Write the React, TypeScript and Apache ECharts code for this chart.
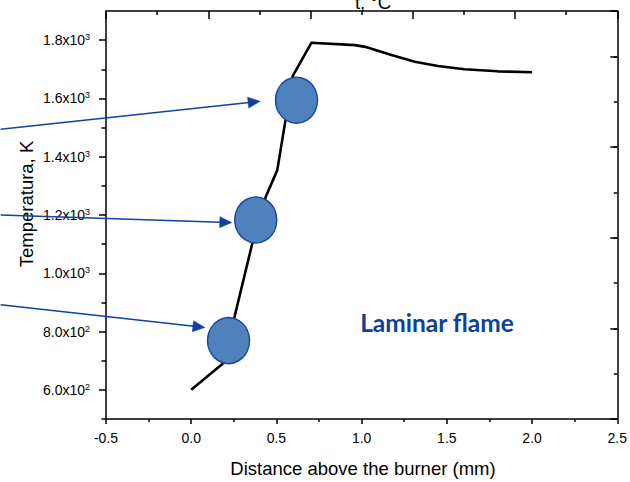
import React, { useEffect, useRef } from "react";
import * as echarts from "echarts";

// Temperature profile (distance above burner, mm -> temperature, K)
const distance = [0, 0.188, 0.359, 0.437, 0.505, 0.596, 0.705, 0.962, 1.02, 1.1, 1.175, 1.312, 1.448, 1.603, 1.798, 2.0];
const temperature = [600, 691, 1104, 1262, 1354, 1677, 1791, 1783, 1777, 1763, 1749, 1726, 1711, 1700, 1693, 1690];

// Highlighted points (blue ellipses)
const markerX = [0.618, 0.379, 0.219];
const markerY = [1594, 1183, 769];

// Arrows (from outside the plot towards the markers), in data units
const arrowFromX = [-1.118, -1.118, -1.118];
const arrowFromY = [1494, 1200, 892];
const arrowToX = [0.404, 0.238, 0.08];
const arrowToY = [1590, 1174, 814];

// Axis tick values
const yLabelValues = [600, 800, 1000, 1200, 1400, 1600, 1800];
const yMinorValues = [500, 700, 900, 1100, 1300, 1500, 1700];

const titleTop = "t, °C";
const titleY = "Temperatura, K";
const titleX = "Distance above the burner (mm)";
const annotation = "Laminar flame";

const FONT = "'Liberation Sans', Arial, sans-serif";
const BLUE_DARK = "#1141A0";

const sci = (v: number) => {
  const e = Math.floor(Math.log10(v) + 1e-9);
  const m = (v / Math.pow(10, e)).toFixed(1);
  return `{m|${m}x10}{e|${e}}`;
};

const axisLineStyle = { color: "#000", width: 1.5 };

export default function App() {
  const ref = useRef<HTMLDivElement>(null);
  useEffect(() => {
    const chart = echarts.init(ref.current!, null, { renderer: "svg" });
    chart.setOption({
      animation: false,
      backgroundColor: "#fff",
      grid: { left: 106, right: 9.5, top: 11, bottom: 63, containLabel: false },
      xAxis: [
        {
          type: "value",
          position: "bottom",
          min: -0.5,
          max: 2.5,
          interval: 0.5,
          axisLine: { show: true, onZero: false, lineStyle: axisLineStyle },
          axisTick: { show: true, inside: false, length: 5, lineStyle: axisLineStyle },
          minorTick: { show: true, splitNumber: 2, length: 3, lineStyle: axisLineStyle },
          axisLabel: {
            margin: 12,
            color: "#000",
            fontSize: 14,
            fontFamily: FONT,
            formatter: (v: number) => v.toFixed(1),
          },
          splitLine: { show: false },
          minorSplitLine: { show: false },
        },
        {
          type: "value",
          position: "top",
          min: 0,
          max: 5,
          interval: 1,
          axisLine: { show: true, onZero: false, lineStyle: axisLineStyle },
          axisTick: { show: true, inside: true, length: 8, lineStyle: axisLineStyle },
          minorTick: { show: true, splitNumber: 2, length: 4, lineStyle: axisLineStyle },
          axisLabel: { show: false },
          splitLine: { show: false },
        },
      ],
      yAxis: [
        {
          type: "value",
          position: "left",
          min: 500,
          max: 1900,
          axisLine: { show: true, onZero: false, lineStyle: axisLineStyle },
          axisTick: { show: true, inside: false, length: 7, customValues: yLabelValues, lineStyle: axisLineStyle },
          axisLabel: {
            customValues: yLabelValues,
            margin: 16,
            color: "#000",
            fontFamily: FONT,
            formatter: sci,
            rich: {
              m: { fontSize: 14, fontFamily: FONT, color: "#000" },
              e: { fontSize: 9, fontFamily: FONT, color: "#000", padding: [0, 0, 6, 0] },
            },
          },
          splitLine: { show: false },
        },
        {
          type: "value",
          position: "left",
          min: 500,
          max: 1900,
          axisLine: { show: false, onZero: false },
          axisTick: { show: true, inside: false, length: 4.5, customValues: yMinorValues, lineStyle: axisLineStyle },
          axisLabel: { show: false },
          splitLine: { show: false },
        },
        {
          type: "value",
          position: "right",
          min: 0,
          max: 4.5,
          interval: 0.5,
          axisLine: { show: true, onZero: false, lineStyle: axisLineStyle },
          axisTick: { show: true, inside: true, length: 3.5, lineStyle: axisLineStyle },
          axisLabel: { show: false },
          splitLine: { show: false },
        },
        {
          type: "value",
          position: "right",
          min: 0,
          max: 4.5,
          interval: 1,
          axisLine: { show: false, onZero: false },
          axisTick: { show: true, inside: true, length: 7, lineStyle: axisLineStyle },
          axisLabel: { show: false },
          splitLine: { show: false },
        },
      ],
      series: [
        {
          type: "line",
          xAxisIndex: 0,
          yAxisIndex: 0,
          data: distance.map((d, i) => [d, temperature[i]]),
          showSymbol: false,
          symbol: "none",
          lineStyle: { color: "#000", width: 2.6, join: "round" },
          z: 2,
        },
        {
          type: "scatter",
          xAxisIndex: 0,
          yAxisIndex: 0,
          data: markerX.map((d, i) => [d, markerY[i]]),
          symbol: "circle",
          symbolSize: [42, 46],
          itemStyle: { color: "#4F81BD", borderColor: "#1C46A0", borderWidth: 1.5, opacity: 1 },
          z: 3,
        },
      ],
    });

    const finder = { xAxisIndex: 0, yAxisIndex: 0 };
    const arrowGraphics: any[] = [];
    arrowFromX.forEach((fx, i) => {
      const p0 = chart.convertToPixel(finder, [fx, arrowFromY[i]]) as number[];
      const p1 = chart.convertToPixel(finder, [arrowToX[i], arrowToY[i]]) as number[];
      const dx = p1[0] - p0[0];
      const dy = p1[1] - p0[1];
      const len = Math.sqrt(dx * dx + dy * dy);
      const ux = dx / len;
      const uy = dy / len;
      const headLen = 12;
      const headHalf = 5.5;
      const bx = p1[0] - ux * headLen;
      const by = p1[1] - uy * headLen;
      arrowGraphics.push({
        type: "line",
        shape: { x1: p0[0], y1: p0[1], x2: bx + ux * 1, y2: by + uy * 1 },
        style: { stroke: BLUE_DARK, lineWidth: 1.5 },
        z: 10,
      });
      arrowGraphics.push({
        type: "polygon",
        shape: {
          points: [
            [p1[0], p1[1]],
            [bx - uy * headHalf, by + ux * headHalf],
            [bx + uy * headHalf, by - ux * headHalf],
          ],
        },
        style: { fill: BLUE_DARK, stroke: BLUE_DARK, lineWidth: 0.5 },
        z: 10,
      });
    });

    chart.setOption({
      graphic: [
        {
          type: "text",
          x: 373,
          y: 2,
          style: { text: titleTop, fontSize: 18.5, fontFamily: FONT, fill: "#000", align: "center", verticalAlign: "middle" },
          z: 10,
        },
        {
          type: "text",
          x: 26.5,
          y: 204,
          rotation: Math.PI / 2,
          style: { text: titleY, fontSize: 18.5, fontFamily: FONT, fill: "#000", align: "center", verticalAlign: "middle" },
          z: 10,
        },
        {
          type: "text",
          x: 363,
          y: 468.5,
          style: { text: titleX, fontSize: 18.5, fontFamily: FONT, fill: "#000", align: "center", verticalAlign: "middle" },
          z: 10,
        },
        {
          type: "text",
          x: 437,
          y: 322,
          style: {
            text: annotation,
            fontSize: 24.5,
            fontWeight: "bold",
            fontFamily: "Lato, 'Open Sans', sans-serif",
            fill: "#0E3F9E",
            align: "center",
            verticalAlign: "middle",
          },
          z: 10,
        },
        ...arrowGraphics,
      ],
    });

    return () => chart.dispose();
  }, []);

  return <div ref={ref} style={{ position: "absolute", left: 0, top: 0, width: 630, height: 482 }} />;
}
